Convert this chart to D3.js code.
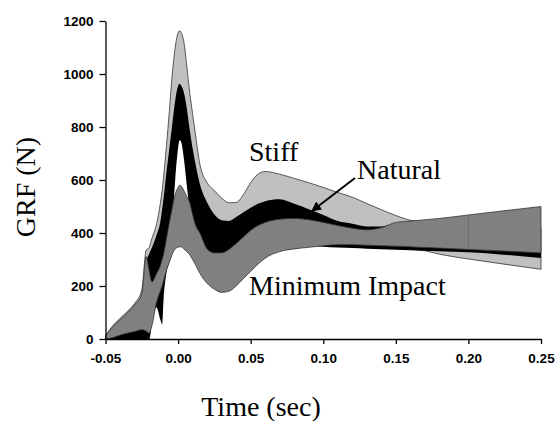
<!DOCTYPE html>
<html><head><meta charset="utf-8">
<script src="https://cdn.jsdelivr.net/npm/d3@7"></script>
<style>
html,body{margin:0;padding:0;background:#fff;}
svg{display:block;}
</style></head>
<body>
<svg id="chart" width="556" height="421"></svg>
<script>
// Time points (sec)
const time = [-0.05,-0.045,-0.04,-0.035,-0.03,-0.025,-0.022,-0.02,-0.018,-0.015,-0.012,-0.011,-0.01,-0.008,-0.006,-0.004,-0.002,0,0.001,0.002,0.004,0.006,0.008,0.01,0.012,0.015,0.02,0.025,0.03,0.035,0.04,0.045,0.05,0.055,0.06,0.07,0.08,0.09,0.1,0.11,0.12,0.13,0.14,0.15,0.16,0.17,0.18,0.2,0.22,0.25];
// Stiff band (upper / lower GRF, N)
const stiffUpper = [12,50,78,104,134,185,335,345,380,430,520,560,610,730,860,1000,1100,1155,1163,1158,1120,1030,930,850,770,660,590,560,532,514,515,545,590,622,632,622,606,590,572,553,535,511,488,466,448,440,425,420,420,420];
const stiffLower = [0,0,0,0,0,0,0,0,100,250,350,380,420,520,620,700,780,820,830,830,800,720,640,560,500,450,400,400,400,400,400,400,400,400,400,400,400,400,400,400,400,400,400,370,340,333,320,302,286,263];
// Natural band
const naturalUpper = [3,8,15,25,35,120,290,320,345,390,450,490,530,630,720,810,900,955,963,958,930,870,790,720,660,585,515,470,448,445,460,478,495,510,520,527,510,490,468,445,435,425,425,435,400,390,385,380,378,375];
const naturalLower = [0,0,0,0,0,0,0,0,60,120,70,55,150,250,300,430,600,720,750,745,680,580,480,400,360,330,300,295,300,315,330,345,360,372,380,380,370,355,348,345,343,341,339,337,335,333,331,327,320,306];
// Minimum Impact band
const minUpper = [12,46,72,98,128,170,311,260,215,245,280,300,320,380,440,495,545,572,580,578,560,537,515,470,430,400,340,325,325,338,360,385,410,428,440,452,455,450,440,428,418,412,420,440,445,450,455,468,481,500];
const minLower = [0,5,15,22,28,35,30,22,50,135,185,200,220,260,290,320,340,346,348,348,340,330,318,300,280,248,210,188,176,180,200,228,255,282,305,330,340,346,352,356,356,354,352,350,348,345,343,338,333,325];

const xTicks = [-0.05,0,0.05,0.10,0.15,0.20,0.25];
const yTicks = [0,200,400,600,800,1000,1200];
const bandNames = ["Stiff","Natural","Minimum Impact"];

const SERIF = '"Liberation Serif", "Times New Roman", Times, serif';
const SANS = '"Liberation Sans", Arial, Helvetica, sans-serif';

const svg = d3.select("#chart");
const x = d3.scaleLinear().domain([-0.05,0.25]).range([105.5,541]);
const y = d3.scaleLinear().domain([0,1200]).range([339,21]);

function band(up, lo){
  return d3.area()
    .x((d,i)=>x(time[i]))
    .y0((d,i)=>y(lo[i]))
    .y1((d,i)=>y(up[i]))
    .curve(d3.curveMonotoneX)(time);
}

const g = svg.append("g");
g.append("path").attr("d", band(stiffUpper, stiffLower))
  .attr("fill","#c0c0c0").attr("stroke","#333").attr("stroke-width",0.8);
g.append("path").attr("d", band(naturalUpper, naturalLower))
  .attr("fill","#000").attr("stroke","none");
g.append("path").attr("d", band(minUpper, minLower))
  .attr("fill","#808080").attr("stroke","#333").attr("stroke-width",0.8);
// seam in the Minimum Impact band at t = 0.20
const iSeam = time.indexOf(0.2);
g.append("line").attr("x1",x(0.2)).attr("x2",x(0.2))
  .attr("y1",y(minUpper[iSeam])).attr("y2",y(minLower[iSeam]))
  .attr("stroke","#6a6a6a").attr("stroke-width",0.8);

// Axes
const fmtX = d => d3.format(".2f")(d).replace("\u2212","-");
const xAxis = d3.axisBottom(x).tickValues(xTicks).tickFormat(fmtX)
  .tickSize(5).tickSizeOuter(0).tickPadding(9);
const yAxis = d3.axisLeft(y).tickValues(yTicks).tickFormat(d3.format("d"))
  .tickSize(6).tickSizeOuter(0).tickPadding(6);

const gx = svg.append("g").attr("transform","translate(0,339)").call(xAxis);
const gy = svg.append("g").attr("transform","translate(105.5,0)").call(yAxis);
[gx,gy].forEach(a=>{
  a.attr("font-family",SANS).attr("font-size",13.5);
  a.selectAll("path,line").attr("stroke","#000").attr("stroke-width",1.3);
  a.selectAll("text").attr("fill","#000").attr("font-weight","bold");
});

// Titles
svg.append("text").attr("x",261).attr("y",416).attr("text-anchor","middle")
  .style("font-family",SERIF).style("font-size","28px").text("Time (sec)");
svg.append("text").attr("transform","translate(35,187) rotate(-90)").attr("text-anchor","middle")
  .style("font-family",SERIF).style("font-size","28px").text("GRF (N)");

// Band labels
const labX = [249,357,249], labY = [161,179,295];
bandNames.forEach((n,i)=>{
  svg.append("text").attr("x",labX[i]).attr("y",labY[i])
    .style("font-family",SERIF).style("font-size","28px").style("fill","#000").text(n);
});

// Arrow to Natural band
svg.append("defs").append("marker").attr("id","ah").attr("viewBox","0 0 10 10")
  .attr("refX",9).attr("refY",5).attr("markerWidth",5).attr("markerHeight",5)
  .attr("orient","auto").attr("markerUnits","strokeWidth")
  .append("path").attr("d","M0,0L10,5L0,10z").attr("fill","#000");
svg.append("line").attr("x1",355).attr("y1",178).attr("x2",312).attr("y2",211)
  .attr("stroke","#000").attr("stroke-width",2).attr("marker-end","url(#ah)");
</script>
</body></html>
